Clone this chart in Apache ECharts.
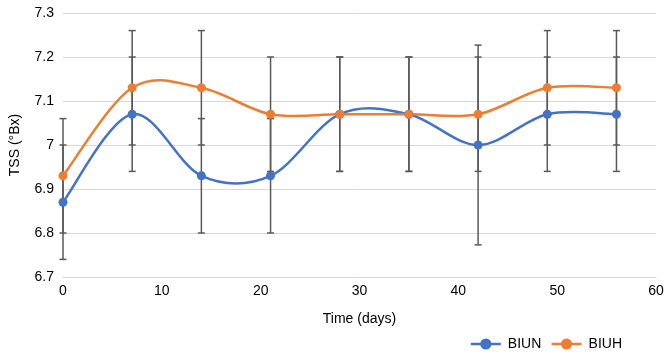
<!DOCTYPE html>
<html>
<head>
<meta charset="utf-8">
<script src="https://cdn.jsdelivr.net/npm/echarts@6/dist/echarts.min.js"></script>
<style>
  html, body { margin: 0; padding: 0; background: #fff; }
  #chart { width: 669px; height: 353px; }
</style>
</head>
<body>
<div id="chart"></div>
<script>
// 数据
const days = [0, 7, 14, 21, 28, 35, 42, 49, 56];
const biun = [6.87, 7.07, 6.93, 6.93, 7.07, 7.07, 7.0, 7.07, 7.07];
const biuh = [6.93, 7.13, 7.13, 7.07, 7.07, 7.07, 7.07, 7.13, 7.13];
const biunErr = [0.13, 0.13, 0.13, 0.13, 0.13, 0.13, 0.227, 0.13, 0.13];
const biuhErr = [0.13, 0.13, 0.13, 0.13, 0.13, 0.13, 0.13, 0.13, 0.13];

const FONT = "'Liberation Sans', Arial, sans-serif";
const BLUE = "#4472C4";
const ORANGE = "#ED7D31";

const chart = echarts.init(document.getElementById("chart"), null, { renderer: "canvas" });

// 误差线 [x, 下限, 上限]
function errData(vals, errs) {
  return days.map((d, i) => [d, vals[i] - errs[i], vals[i] + errs[i]]);
}

function renderErr(params, api) {
  const x = api.value(0);
  const lo = api.coord([x, api.value(1)]);
  const hi = api.coord([x, api.value(2)]);
  const w = 3.5;
  const style = { stroke: "#595959", lineWidth: 1.5 };
  return {
    type: "group",
    children: [
      { type: "line", shape: { x1: lo[0], y1: lo[1], x2: hi[0], y2: hi[1] }, style },
      { type: "line", shape: { x1: lo[0] - w, y1: lo[1], x2: lo[0] + w, y2: lo[1] }, style },
      { type: "line", shape: { x1: hi[0] - w, y1: hi[1], x2: hi[0] + w, y2: hi[1] }, style },
    ],
  };
}

// Excel 风格平滑曲线 (Catmull-Rom 段)
function curveRenderer(vals, color) {
  return function (params, api) {
    const i = params.dataIndex;
    if (i >= days.length - 1) return null;
    const pt = (k) => {
      const j = Math.max(0, Math.min(days.length - 1, k));
      return api.coord([days[j], vals[j]]);
    };
    const p0 = pt(i - 1), p1 = pt(i), p2 = pt(i + 1), p3 = pt(i + 2);
    return {
      type: "bezierCurve",
      shape: {
        x1: p1[0], y1: p1[1],
        x2: p2[0], y2: p2[1],
        cpx1: p1[0] + (p2[0] - p0[0]) / 6, cpy1: p1[1] + (p2[1] - p0[1]) / 6,
        cpx2: p2[0] - (p3[0] - p1[0]) / 6, cpy2: p2[1] - (p3[1] - p1[1]) / 6,
      },
      style: { stroke: color, lineWidth: 2.5, fill: null },
    };
  };
}

const option = {
  animation: false,
  grid: { left: 63, right: 13, top: 13, bottom: 76 },
  legend: {
    right: 42,
    top: 332,
    itemWidth: 30,
    itemHeight: 14,
    itemGap: 9,
    data: ["BIUN", "BIUH"],
    lineStyle: { opacity: 1, width: 2.5 },
    textStyle: { fontFamily: FONT, fontSize: 14, color: "#000", padding: [0, 0, 0, 2] },
  },
  xAxis: {
    type: "value",
    min: 0,
    max: 60,
    interval: 10,
    name: "Time (days)",
    nameLocation: "middle",
    nameGap: 35,
    nameTextStyle: { fontFamily: FONT, fontSize: 14, color: "#000" },
    axisLine: { show: true, lineStyle: { color: "#d9d9d9", width: 1 } },
    axisTick: { show: false },
    axisLabel: { fontFamily: FONT, fontSize: 14, color: "#000", margin: 7 },
    splitLine: { show: false },
  },
  yAxis: {
    type: "value",
    min: 6.7,
    max: 7.3,
    interval: 0.1,
    name: "TSS (°Bx)",
    nameLocation: "middle",
    nameGap: 41,
    nameTextStyle: { fontFamily: FONT, fontSize: 14, color: "#000" },
    axisLine: { show: false },
    axisTick: { show: false },
    axisLabel: {
      fontFamily: FONT,
      fontSize: 14,
      color: "#000",
      margin: 9,
      formatter: (v) => String(Math.round(v * 10) / 10),
    },
    splitLine: { lineStyle: { color: "#d9d9d9", width: 1 } },
  },
  series: [
    {
      name: "BIUN",
      type: "line",
      data: days.map((d, i) => [d, biun[i]]),
      symbol: "circle",
      symbolSize: 9,
      lineStyle: { color: BLUE, width: 2.5, opacity: 0 },
      itemStyle: { color: BLUE },
      z: 4,
    },
    {
      name: "BIUH",
      type: "line",
      data: days.map((d, i) => [d, biuh[i]]),
      symbol: "circle",
      symbolSize: 9,
      lineStyle: { color: ORANGE, width: 2.5, opacity: 0 },
      itemStyle: { color: ORANGE },
      z: 4,
    },
    {
      type: "custom",
      renderItem: curveRenderer(biun, BLUE),
      data: days.map((d, i) => [d, biun[i]]),
      z: 3,
      silent: true,
    },
    {
      type: "custom",
      renderItem: curveRenderer(biuh, ORANGE),
      data: days.map((d, i) => [d, biuh[i]]),
      z: 3,
      silent: true,
    },
    {
      type: "custom",
      renderItem: renderErr,
      data: errData(biun, biunErr),
      encode: { x: 0, y: [1, 2] },
      z: 2,
      silent: true,
    },
    {
      type: "custom",
      renderItem: renderErr,
      data: errData(biuh, biuhErr),
      encode: { x: 0, y: [1, 2] },
      z: 2,
      silent: true,
    },
  ],
};

chart.setOption(option);
</script>
</body>
</html>
